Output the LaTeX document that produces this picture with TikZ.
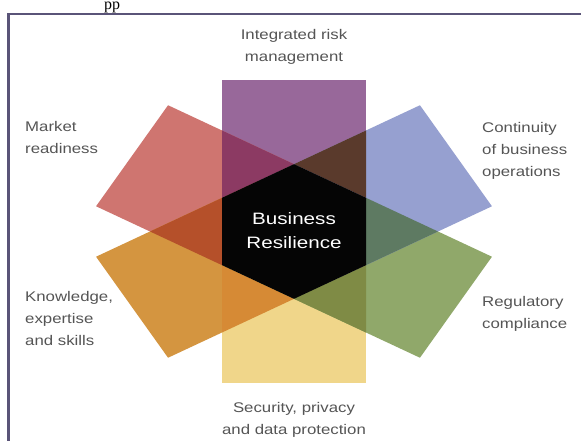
\documentclass[tikz,border=0pt]{standalone}
\usepackage{fontspec}
\setmainfont{Liberation Sans}
\newfontfamily\ppfont{Liberation Serif}
\definecolor{cPurple}{HTML}{98689A}
\definecolor{cRed}{HTML}{CF7570}
\definecolor{cBlue}{HTML}{96A0D0}
\definecolor{cOrange}{HTML}{D49540}
\definecolor{cYellow}{HTML}{F0D68A}
\definecolor{cGreen}{HTML}{90A86A}
\definecolor{cPR}{HTML}{8C3A63}
\definecolor{cPB}{HTML}{5A3A2C}
\definecolor{cRO}{HTML}{B5502A}
\definecolor{cBG}{HTML}{5E7A62}
\definecolor{cOY}{HTML}{D68A35}
\definecolor{cYG}{HTML}{7F8B45}
\definecolor{cCore}{HTML}{050505}
\definecolor{cText}{HTML}{555555}
\definecolor{cFrame}{HTML}{5A5478}
\tikzset{
  lbl/.style={inner sep=0pt, text=cText},
  core/.style={inner sep=0pt, text=white},
  frame/.style={draw=cFrame, line width=2.5pt},
}
\newcommand{\lbltext}[2]{\scalebox{1.2}[1]{\fontsize{14}{22}\selectfont\begin{tabular}{@{}#1@{}}#2\end{tabular}}}
\begin{document}
\begin{tikzpicture}[x=1pt,y=1pt]
\useasboundingbox (0,0) rectangle (581,441);
\fill[white] (0,0) rectangle (581,441);
% cut-off text at the top
\node[anchor=base west, inner sep=0pt, font=\ppfont\fontsize{16}{16}\selectfont] (pp) at (104,431.5) {pp};
% frame
\coordinate (fBL) at (8.5,0);
\coordinate (fTL) at (8.5,427);
\coordinate (fTR) at (581,427);
\draw[frame] (fBL) -- (fTL) -- (fTR);
% strips
\begin{scope}[shift={(294,209.5)}, yscale=0.81]
  \fill[cPurple]             (-72,0) -- (72,0) -- (72,187) -- (-72,187) -- cycle;
  \fill[cRed, rotate=60]     (-72,0) -- (72,0) -- (72,187) -- (-72,187) -- cycle;
  \fill[cOrange, rotate=120] (-72,0) -- (72,0) -- (72,187) -- (-72,187) -- cycle;
  \fill[cYellow, rotate=180] (-72,0) -- (72,0) -- (72,187) -- (-72,187) -- cycle;
  \fill[cGreen, rotate=240]  (-72,0) -- (72,0) -- (72,187) -- (-72,187) -- cycle;
  \fill[cBlue, rotate=300]   (-72,0) -- (72,0) -- (72,187) -- (-72,187) -- cycle;
  % double overlaps
  \fill[cPR] (-72,41.57) -- (-72,124.71) -- (0,83.14) -- cycle;
  \fill[cPB] (72,41.57) -- (72,124.71) -- (0,83.14) -- cycle;
  \fill[cOY] (-72,-41.57) -- (-72,-124.71) -- (0,-83.14) -- cycle;
  \fill[cYG] (72,-41.57) -- (72,-124.71) -- (0,-83.14) -- cycle;
  \fill[cRO] (-72,41.57) -- (-72,-41.57) -- (-144,0) -- cycle;
  \fill[cBG] (72,41.57) -- (72,-41.57) -- (144,0) -- cycle;
  % core hexagon
  \fill[cCore] (0,83.14) -- (72,41.57) -- (72,-41.57) -- (0,-83.14) -- (-72,-41.57) -- (-72,41.57) -- cycle;
\end{scope}
% labels
\node[core] (core) at (294,209.5) {\scalebox{1.25}[1]{\fontsize{16.5}{24}\selectfont\begin{tabular}{@{}c@{}}Business\\Resilience\end{tabular}}};
\node[lbl] (top) at (294,395) {\lbltext{c}{Integrated risk\\management}};
\node[lbl] (bottom) at (294,22) {\lbltext{c}{Security, privacy\\and data protection}};
\node[lbl, anchor=west] (tl) at (25,303) {\lbltext{l}{Market\\readiness}};
\node[lbl, anchor=west] (bl) at (25,122) {\lbltext{l}{Knowledge,\\expertise\\and skills}};
\node[lbl, anchor=west] (tr) at (482,291) {\lbltext{l}{Continuity\\of business\\operations}};
\node[lbl, anchor=west] (br) at (482,128) {\lbltext{l}{Regulatory\\compliance}};
\end{tikzpicture}
\end{document}
